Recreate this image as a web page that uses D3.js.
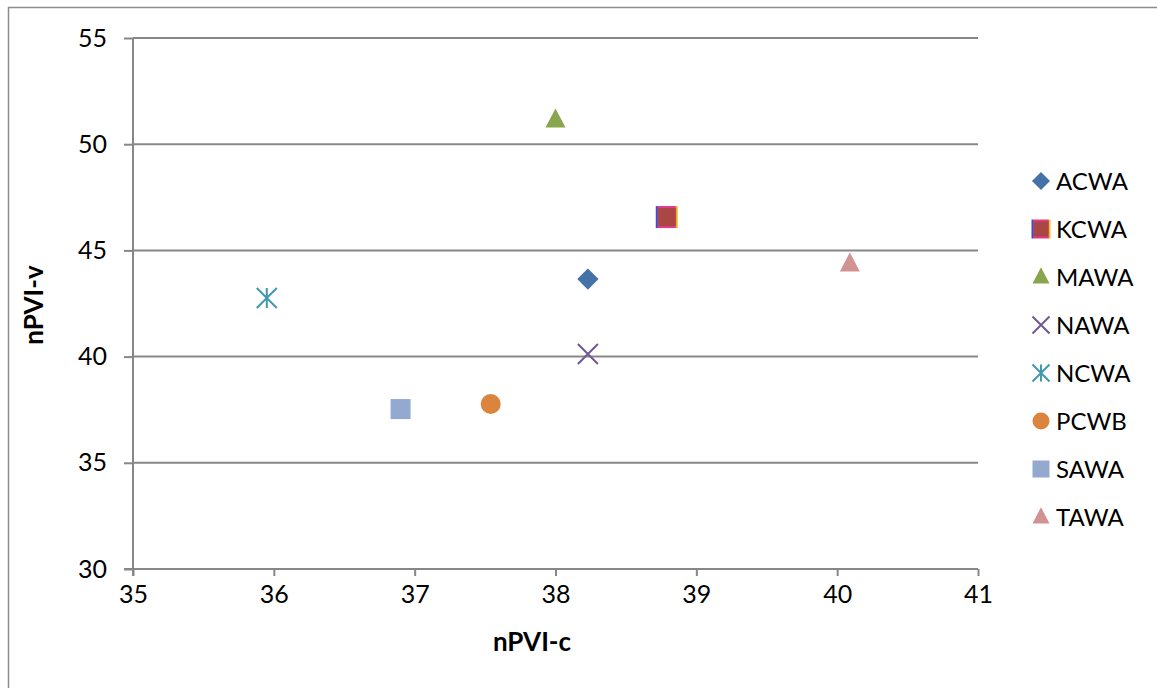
<!DOCTYPE html>
<html>
<head>
<meta charset="utf-8">
<script src="https://cdn.jsdelivr.net/npm/d3@7"></script>
<style>
  body { margin: 0; background: #fff; }
  svg { font-family: Lato, "Open Sans", sans-serif; }
</style>
</head>
<body>
<div id="chart"></div>
<script>
// Data
const series = ["ACWA", "KCWA", "MAWA", "NAWA", "NCWA", "PCWB", "SAWA", "TAWA"];
const nPVIc = [38.23, 38.79, 38.0, 38.23, 35.95, 37.54, 36.90, 40.09];
const nPVIv = [43.65, 46.57, 51.14, 40.12, 42.76, 37.77, 37.53, 44.36];
const xTicks = [35, 36, 37, 38, 39, 40, 41];
const yTicks = [30, 35, 40, 45, 50, 55];

const colors = {
  ACWA: "#4572A7", KCWA: "#AA4643", MAWA: "#89A54E", NAWA: "#71588F",
  NCWA: "#4198AF", PCWB: "#DB843D", SAWA: "#93A9CF", TAWA: "#D19392"
};
const shapes = {
  ACWA: "diamond", KCWA: "square", MAWA: "triangle", NAWA: "x",
  NCWA: "star", PCWB: "circle", SAWA: "square", TAWA: "triangle"
};

const width = 1157, height = 688;
const svg = d3.select("#chart").append("svg")
  .attr("width", width)
  .attr("height", height);

// outer chart border
svg.append("rect")
  .attr("x", 8.5).attr("y", 7.5)
  .attr("width", width + 20).attr("height", height + 20)
  .attr("fill", "none").attr("stroke", "#8c8c8c").attr("stroke-width", 1.5);

const plot = { left: 133, right: 978, top: 38, bottom: 569 };

const x = d3.scaleLinear().domain([35, 41]).range([plot.left, plot.right]);
const y = d3.scaleLinear().domain([30, 55]).range([plot.bottom, plot.top]);

// gridlines
svg.append("g").selectAll("line")
  .data(yTicks.filter(d => d > 30))
  .join("line")
  .attr("x1", plot.left).attr("x2", plot.right)
  .attr("y1", d => y(d)).attr("y2", d => y(d))
  .attr("stroke", "#878787").attr("stroke-width", 2);

// axes
const xAxis = svg.append("g")
  .attr("transform", `translate(0,${plot.bottom})`)
  .call(d3.axisBottom(x).tickValues(xTicks).tickSize(7).tickPadding(9).tickFormat(d3.format("d")));
const yAxis = svg.append("g")
  .attr("transform", `translate(${plot.left},0)`)
  .call(d3.axisLeft(y).tickValues(yTicks).tickSize(9).tickPadding(17).tickFormat(d3.format("d")));

[xAxis, yAxis].forEach(a => {
  a.attr("font-family", null).attr("font-size", null);
  a.select(".domain").attr("stroke", "#878787").attr("stroke-width", 2);
  a.selectAll(".tick line").attr("stroke", "#878787").attr("stroke-width", 2);
  a.selectAll(".tick text").attr("fill", "#000").attr("font-size", 25);
});
xAxis.select(".domain").attr("d", `M${plot.left - 9},0H${plot.right}`);
yAxis.select(".domain").attr("d", `M0,${plot.bottom + 7}V${plot.top}`);

// axis titles
svg.append("text")
  .attr("x", 532)
  .attr("y", 651)
  .attr("text-anchor", "middle")
  .attr("font-size", 26).attr("font-weight", "bold")
  .text("nPVI-c");

svg.append("text")
  .attr("transform", `translate(43,305) rotate(-90)`)
  .attr("text-anchor", "middle")
  .attr("font-size", 26).attr("font-weight", "bold")
  .text("nPVI-v");

// marker drawing
function drawMarker(g, name, s) {
  const c = colors[name];
  switch (shapes[name]) {
    case "diamond":
      g.append("path").attr("d", d3.symbol(d3.symbolDiamond2, s * s * 0.72)()).attr("fill", c);
      break;
    case "square":
      g.append("rect").attr("x", -s / 2).attr("y", -s / 2).attr("width", s).attr("height", s)
        .attr("fill", c);
      if (name === "KCWA") {
        g.select("rect").attr("stroke", "url(#rainbow)").attr("stroke-width", 2);
      }
      break;
    case "triangle":
      g.append("path")
        .attr("d", `M0,${-s * 0.58}L${s / 2},${s * 0.38}L${-s / 2},${s * 0.38}Z`)
        .attr("fill", c);
      break;
    case "x":
      g.append("path")
        .attr("d", `M${-s / 2},${-s / 2}L${s / 2},${s / 2}M${-s / 2},${s / 2}L${s / 2},${-s / 2}`)
        .attr("stroke", c).attr("stroke-width", 2).attr("fill", "none");
      break;
    case "star":
      g.append("path")
        .attr("d", `M${-s / 2},${-s / 2}L${s / 2},${s / 2}M${-s / 2},${s / 2}L${s / 2},${-s / 2}M0,${-s / 2}V${s / 2}`)
        .attr("stroke", c).attr("stroke-width", 2).attr("fill", "none");
      break;
    case "circle":
      g.append("circle").attr("r", s / 2).attr("fill", c);
      break;
  }
}

// rainbow-edged border of the KCWA marker
const grad = svg.append("defs").append("linearGradient")
  .attr("id", "rainbow").attr("x1", "0").attr("x2", "1").attr("y1", "0").attr("y2", "0");
[["0%", "#3050e0"], ["8%", "#e03a8a"], ["50%", "#e03a8a"], ["92%", "#e03a8a"], ["100%", "#f0c020"]]
  .forEach(([o, c]) => grad.append("stop").attr("offset", o).attr("stop-color", c));

// points
const pts = series.map((name, i) => ({ name, x: nPVIc[i], y: nPVIv[i] }));
svg.append("g").selectAll("g")
  .data(pts)
  .join("g")
  .attr("transform", d => `translate(${x(d.x)},${y(d.y)})`)
  .each(function (d) { drawMarker(d3.select(this), d.name, 20); });

// legend
const legend = svg.append("g").attr("transform", "translate(1041,181)");
const items = legend.selectAll("g")
  .data(series)
  .join("g")
  .attr("transform", (d, i) => `translate(0,${i * 48})`);
items.each(function (d) { drawMarker(d3.select(this), d, 17); });
items.append("text")
  .attr("x", 15).attr("y", 9)
  .attr("font-size", 24)
  .text(d => d);
</script>
</body>
</html>
